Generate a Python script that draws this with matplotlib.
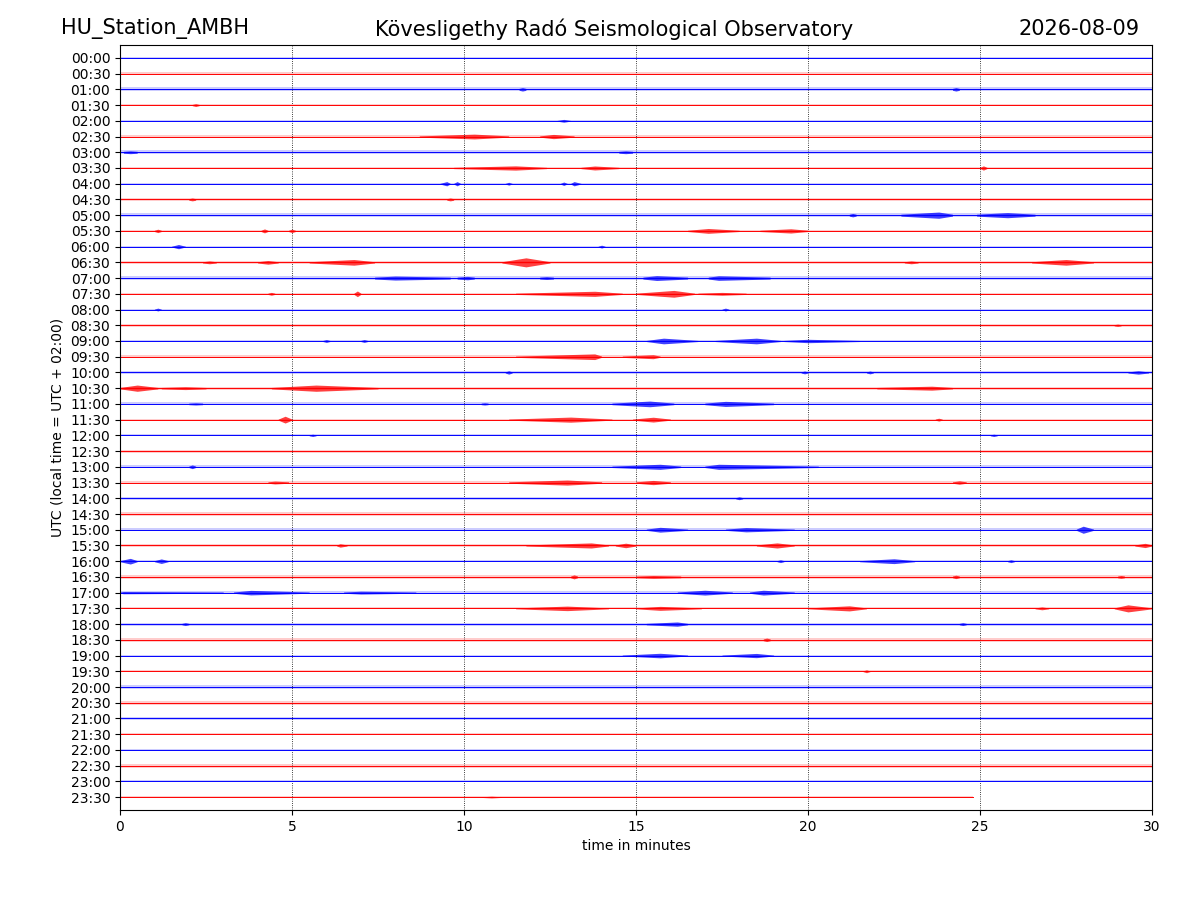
import matplotlib
matplotlib.use('Agg')
import matplotlib.pyplot as plt

# half-hour trace labels (UTC)
labels = ['%02d:%02d' % (h, m) for h in range(24) for m in (0, 30)]

# background noise level of each trace (in trace spacing units)
noise = [0.04, 0.08, 0.12, 0.08, 0.04, 0.08, 0.12, 0.08, 0.04, 0.10,
         0.12, 0.08, 0.05, 0.08, 0.12, 0.08, 0.05, 0.08, 0.07, 0.08,
         0.07, 0.09, 0.10, 0.07, 0.06, 0.10, 0.09, 0.09, 0.08, 0.10,
         0.08, 0.07, 0.07, 0.11, 0.08, 0.06, 0.09, 0.11, 0.06, 0.05,
         0.10, 0.12, 0.07, 0.05, 0.06, 0.12, 0.06, 0.04]

# minute where each trace ends (last one is incomplete)
trace_end = [30.0] * 47 + [24.8]

# wave bursts: (trace, start, peak, end, amplitude)
bursts = [
    ('01:00', 11.6, 11.7, 11.8, 0.12), ('01:00', 24.2, 24.3, 24.4, 0.12),
    ('01:30', 2.1, 2.2, 2.3, 0.10),
    ('02:00', 12.7, 12.9, 13.1, 0.10),
    ('02:30', 8.7, 10.3, 11.3, 0.17), ('02:30', 12.2, 12.6, 13.2, 0.15),
    ('03:00', 0.1, 0.3, 0.5, 0.10), ('03:00', 14.5, 14.7, 14.9, 0.10),
    ('03:30', 9.7, 11.5, 12.4, 0.15), ('03:30', 13.4, 13.8, 14.5, 0.14),
    ('03:30', 25.0, 25.1, 25.2, 0.15),
    ('04:00', 9.3, 9.5, 9.6, 0.15), ('04:00', 9.7, 9.8, 9.9, 0.15),
    ('04:00', 11.2, 11.3, 11.4, 0.10), ('04:00', 12.8, 12.9, 13.0, 0.12),
    ('04:00', 13.1, 13.2, 13.4, 0.15),
    ('04:30', 2.0, 2.1, 2.2, 0.10), ('04:30', 9.5, 9.6, 9.7, 0.10),
    ('05:00', 21.2, 21.3, 21.4, 0.12), ('05:00', 22.7, 23.8, 24.2, 0.22),
    ('05:00', 24.9, 25.8, 26.6, 0.18),
    ('05:30', 1.0, 1.1, 1.2, 0.12), ('05:30', 4.1, 4.2, 4.3, 0.14),
    ('05:30', 4.9, 5.0, 5.1, 0.12), ('05:30', 16.5, 17.1, 18.0, 0.17),
    ('05:30', 18.6, 19.5, 20.0, 0.15),
    ('06:00', 1.5, 1.7, 1.9, 0.15), ('06:00', 13.9, 14.0, 14.1, 0.10),
    ('06:30', 2.4, 2.6, 2.8, 0.10), ('06:30', 4.0, 4.3, 4.6, 0.13),
    ('06:30', 5.5, 6.8, 7.4, 0.20), ('06:30', 11.1, 11.8, 12.5, 0.32),
    ('06:30', 22.8, 23.0, 23.2, 0.10), ('06:30', 26.5, 27.5, 28.3, 0.20),
    ('07:00', 7.4, 8.0, 9.6, 0.14), ('07:00', 9.8, 10.1, 10.3, 0.12),
    ('07:00', 12.2, 12.4, 12.6, 0.10), ('07:00', 15.2, 15.6, 16.5, 0.17),
    ('07:00', 17.1, 17.4, 18.9, 0.16),
    ('07:30', 4.3, 4.4, 4.5, 0.10), ('07:30', 6.8, 6.9, 7.0, 0.20),
    ('07:30', 11.5, 13.8, 14.6, 0.18), ('07:30', 15.0, 16.1, 16.7, 0.24),
    ('07:30', 16.8, 17.5, 18.2, 0.10),
    ('08:00', 1.0, 1.1, 1.2, 0.10), ('08:00', 17.5, 17.6, 17.7, 0.10),
    ('08:30', 28.9, 29.0, 29.1, 0.08),
    ('09:00', 5.9, 6.0, 6.1, 0.10), ('09:00', 7.0, 7.1, 7.2, 0.10),
    ('09:00', 15.3, 15.8, 16.8, 0.20), ('09:00', 17.3, 18.5, 19.2, 0.20),
    ('09:00', 19.3, 20.0, 21.5, 0.12),
    ('09:30', 11.5, 13.8, 14.0, 0.20), ('09:30', 14.6, 15.5, 15.7, 0.14),
    ('10:00', 11.2, 11.3, 11.4, 0.12), ('10:00', 19.8, 19.9, 20.0, 0.10),
    ('10:00', 21.7, 21.8, 21.9, 0.10), ('10:00', 29.3, 29.6, 29.9, 0.12),
    ('10:30', 0.0, 0.5, 1.1, 0.22), ('10:30', 1.2, 1.9, 2.5, 0.10),
    ('10:30', 4.4, 5.7, 7.5, 0.22), ('10:30', 22.0, 23.6, 24.2, 0.14),
    ('11:00', 2.0, 2.2, 2.4, 0.08), ('11:00', 10.5, 10.6, 10.7, 0.08),
    ('11:00', 14.3, 15.4, 16.1, 0.20), ('11:00', 17.0, 17.6, 19.0, 0.18),
    ('11:30', 4.6, 4.8, 5.0, 0.24), ('11:30', 11.3, 13.1, 14.3, 0.18),
    ('11:30', 14.9, 15.5, 16.0, 0.17), ('11:30', 23.7, 23.8, 23.9, 0.10),
    ('12:00', 5.5, 5.6, 5.7, 0.08), ('12:00', 25.3, 25.4, 25.5, 0.08),
    ('13:00', 2.0, 2.1, 2.2, 0.13), ('13:00', 14.3, 15.7, 16.3, 0.18),
    ('13:00', 17.0, 17.4, 20.3, 0.18),
    ('13:30', 4.3, 4.5, 4.9, 0.10), ('13:30', 11.3, 13.0, 14.0, 0.18),
    ('13:30', 15.0, 15.5, 16.0, 0.15), ('13:30', 24.2, 24.4, 24.6, 0.12),
    ('14:00', 17.9, 18.0, 18.1, 0.10),
    ('15:00', 15.3, 15.7, 16.5, 0.17), ('15:00', 17.6, 18.2, 19.6, 0.15),
    ('15:00', 27.8, 28.0, 28.3, 0.25),
    ('15:30', 6.3, 6.4, 6.6, 0.12), ('15:30', 11.8, 13.7, 14.2, 0.18),
    ('15:30', 14.4, 14.7, 15.0, 0.16), ('15:30', 18.5, 19.1, 19.6, 0.18),
    ('15:30', 29.5, 29.8, 30.0, 0.15),
    ('16:00', 0.0, 0.3, 0.5, 0.20), ('16:00', 1.0, 1.2, 1.4, 0.16),
    ('16:00', 19.1, 19.2, 19.3, 0.10), ('16:00', 21.5, 22.5, 23.1, 0.17),
    ('16:00', 25.8, 25.9, 26.0, 0.10),
    ('16:30', 13.1, 13.2, 13.3, 0.14), ('16:30', 15.0, 15.5, 16.3, 0.10),
    ('16:30', 24.2, 24.3, 24.4, 0.12), ('16:30', 29.0, 29.1, 29.2, 0.10),
    ('17:00', 0.0, 0.1, 3.0, 0.08), ('17:00', 3.3, 3.8, 5.5, 0.16),
    ('17:00', 6.5, 7.0, 8.6, 0.10), ('17:00', 16.2, 17.0, 17.8, 0.17),
    ('17:00', 18.3, 18.7, 19.6, 0.17),
    ('17:30', 11.5, 13.0, 14.2, 0.16), ('17:30', 15.0, 15.7, 16.9, 0.14),
    ('17:30', 20.0, 21.2, 21.7, 0.18), ('17:30', 26.6, 26.8, 27.0, 0.10),
    ('17:30', 28.9, 29.3, 30.0, 0.25),
    ('18:00', 1.8, 1.9, 2.0, 0.10), ('18:00', 15.3, 16.2, 16.5, 0.15),
    ('18:00', 24.4, 24.5, 24.6, 0.10),
    ('18:30', 18.7, 18.8, 18.9, 0.12),
    ('19:00', 14.6, 15.7, 16.5, 0.16), ('19:00', 17.5, 18.5, 19.0, 0.15),
    ('19:30', 21.6, 21.7, 21.8, 0.10),
    ('23:30', 10.5, 10.8, 11.1, 0.06),
]

colors = ['blue', 'red']

fig = plt.figure(figsize=(12, 9), dpi=100)
ax = fig.add_axes([0.1, 0.1, 0.86, 0.85])

for i, lab in enumerate(labels):
    c = colors[i % 2]
    end = trace_end[i]
    n = noise[i]
    # faint noise band and the trace itself
    ax.fill_between([0, end], [i - n, i - n], [i + n, i + n], color=c, alpha=0.2, lw=0)
    ax.plot([0, end], [i, i], color=c, lw=0.7)

for lab, t0, tp, t1, amp in bursts:
    i = labels.index(lab)
    c = colors[i % 2]
    n = noise[i] * 0.5
    ax.fill_between([t0, tp, t1], [i - n, i - amp * 0.9, i - n], [i + n, i + amp * 0.9, i + n],
                    color=c, alpha=0.75, lw=0)

ax.set_xlim(0, 30)
ax.set_ylim(len(labels) - 1 + 0.82, -0.82)
ax.set_yticks(range(len(labels)))
ax.set_yticklabels(labels)
ax.set_xticks(range(0, 31, 5))
ax.xaxis.grid(True, ls=':', color='black', lw=0.6)
ax.set_xlabel('time in minutes')
ax.set_ylabel('UTC (local time = UTC + 02:00)')

fig.text(0.051, 0.968, 'HU_Station_AMBH', fontsize=15, ha='left', va='center')
fig.text(0.512, 0.968, 'Kövesligethy Radó Seismological Observatory', fontsize=15,
         ha='center', va='center')
fig.text(0.95, 0.968, '2026-08-09', fontsize=15, ha='right', va='center')

fig.savefig('out.png', dpi=100)
